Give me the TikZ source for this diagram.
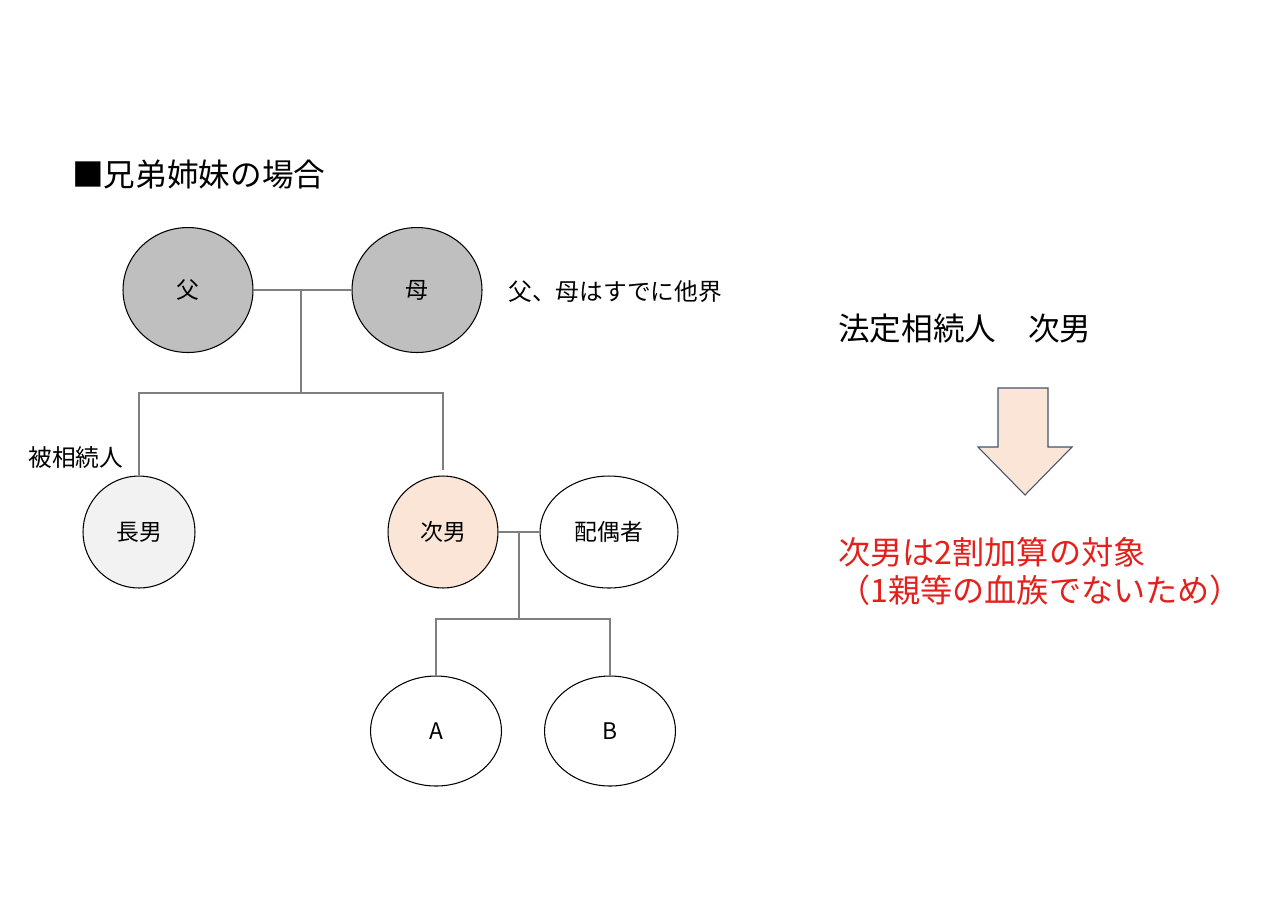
\documentclass[tikz,border=0pt]{standalone}
\usepackage{fontspec}
\setmainfont{Noto Sans CJK JP}
\usepackage{tikz}
\usetikzlibrary{shapes.geometric}
\usepackage{xcolor}
\definecolor{deadgray}{HTML}{BFBFBF}
\definecolor{heirgray}{HTML}{F2F2F2}
\definecolor{peach}{HTML}{FBE5D6}
\definecolor{linegray}{HTML}{7F7F7F}
\definecolor{arrowedge}{HTML}{41546E}
\definecolor{notered}{HTML}{E3201C}

\begin{document}
\begin{tikzpicture}[
    x=0.02cm, y=-0.02cm,
    person/.style={draw, ellipse, line width=0.6pt, inner sep=0pt, font=\fontsize{13}{15}\selectfont},
    link/.style={draw=linegray, line width=0.6pt},
    note/.style={anchor=west, inner sep=0pt, font=\fontsize{13.5}{16}\selectfont},
    big/.style={anchor=west, inner sep=0pt, font=\fontsize{18}{21}\selectfont}
]
\useasboundingbox (0,0) rectangle (1280,904);

% Title
\node[big] (title) at (72,175) {■兄弟姉妹の場合};

% Parents
\node[person, fill=deadgray, minimum width=2.6cm, minimum height=2.5cm] (F) at (188,290) {父};
\node[person, fill=deadgray, minimum width=2.6cm, minimum height=2.5cm] (M) at (417,290) {母};
\node[note] (dead) at (508,292) {父、母はすでに他界};

% Children
\node[person, fill=heirgray, minimum width=2.24cm, minimum height=2.24cm] (C1) at (139,532) {長男};
\node[person, fill=peach, minimum width=2.2cm, minimum height=2.24cm] (C2) at (443,532) {次男};
\node[person, fill=white, minimum width=2.76cm, minimum height=2.24cm] (S) at (609,532) {配偶者};
\node[note] (heir) at (28,457) {被相続人};

% Grandchildren
\node[person, fill=white, minimum width=2.62cm, minimum height=2.2cm] (A) at (436,731) {A};
\node[person, fill=white, minimum width=2.62cm, minimum height=2.2cm] (B) at (610,731) {B};

% Family lines
\coordinate (PJ) at (301,290);
\coordinate (SibBar) at (301,393);
\coordinate (SJ) at (519,532);
\coordinate (KidBar) at (519,619);
\draw[link] (F.east) -- (M.west);
\draw[link] (PJ) -- (SibBar);
\draw[link] (C1.north) |- (SibBar) -| ([yshift=3pt]C2.north);
\draw[link] (C2.east) -- (S.west);
\draw[link] (SJ) -- (KidBar);
\draw[link] (A.north) |- (KidBar) -| (B.north);

% Right side
\node[big] (legal) at (838,329) {法定相続人　次男};
\draw[draw=arrowedge, line width=0.6pt, fill=peach]
    (998,388) -- (1048,388) -- (1048,447) -- (1072,447) -- (1025,495)
    -- (978,447) -- (998,447) -- cycle;
\node[big, text=notered, font=\fontsize{18.3}{22}\selectfont] (res1) at (838,552) {次男は2割加算の対象};
\node[big, text=notered, font=\fontsize{18.3}{22}\selectfont] (res2) at (838,590) {（1親等の血族でないため）};

\end{tikzpicture}
\end{document}
